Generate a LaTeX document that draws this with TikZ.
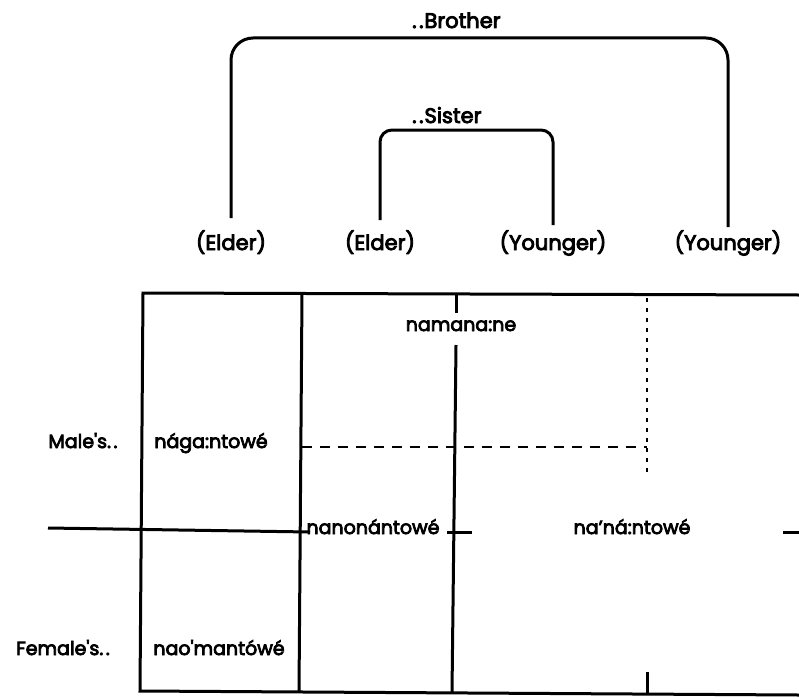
\documentclass[tikz,border=0pt]{standalone}
\usepackage{fontspec}
\setmainfont{Poppins}[FakeBold=4]
% spaced leader dots
\newcommand{\lead}{.\kern2.5pt.}
\begin{document}
\begin{tikzpicture}[x=1pt,y=-1pt,
  head/.style={font=\fontsize{21}{24}\selectfont, inner sep=2pt},
  lbl/.style={font=\fontsize{19}{22}\selectfont, inner sep=2pt},
  bracket/.style={line width=3pt},
  rule/.style={line width=3pt},
  dashrule/.style={line width=2.6pt, dash pattern=on 10pt off 8pt},
  dotrule/.style={line width=2.6pt, dash pattern=on 4pt off 6pt}]
\useasboundingbox (0,0) rectangle (799,698);

% headings of the two brackets
\node[head, anchor=base west] (brother) at (410,28) {\lead\kern1pt Brother};
\node[head, anchor=base west] (sister) at (410,123) {\lead\kern1pt Sister};

% age labels
\node[head, anchor=base] (e1) at (231,250) {(Elder)};
\node[head, anchor=base] (e2) at (380,250) {(Elder)};
\node[head, anchor=base] (y1) at (553,250) {(Younger)};
\node[head, anchor=base] (y2) at (728,250) {(Younger)};

% brackets joining the pairs
\coordinate (tb) at (470,38);
\coordinate (ts) at (465,130);
\draw[bracket, rounded corners=22pt] ([yshift=10pt]e1.north) |- (tb) -| ([yshift=1pt]y2.north);
\draw[bracket, rounded corners=12pt] ([yshift=8pt]e2.north) |- (ts) -| ([yshift=3pt]y1.north);

% table frame and rules
\draw[rule] (799,295) -- (143,293) -- (140,691) -- (799,695);
\draw[rule] (302,293) -- (299,692);
\draw[rule] (456,293) -- (456,313);
\draw[rule] (456,345) -- (452,692);
\draw[rule] (48,528) -- (310,532);
\draw[rule] (447,532) -- (472,532);
\draw[rule] (783,532) -- (799,532);
\draw[dashrule] (302,447) -- (647,447);
\draw[dotrule] (647,298) -- (647,472);
\draw[rule] (647,672) -- (647,693);

% cell entries
\node[lbl, anchor=base] (nmn) at (461,331) {namana:ne};
\node[lbl, anchor=base] (male) at (83,448) {Male\textquotesingle s\lead};
\node[lbl, anchor=base] (ngn) at (211,448) {nága:ntowé};
\node[lbl, anchor=base] (nnn) at (373,534) {nanonántowé};
\node[lbl, anchor=base] (nan) at (632,534) {na’ná:ntowé};
\node[lbl, anchor=base] (female) at (63,655) {Female\textquotesingle s\lead};
\node[lbl, anchor=base] (nao) at (219,655) {nao\textquotesingle mantówé};
\end{tikzpicture}
\end{document}
